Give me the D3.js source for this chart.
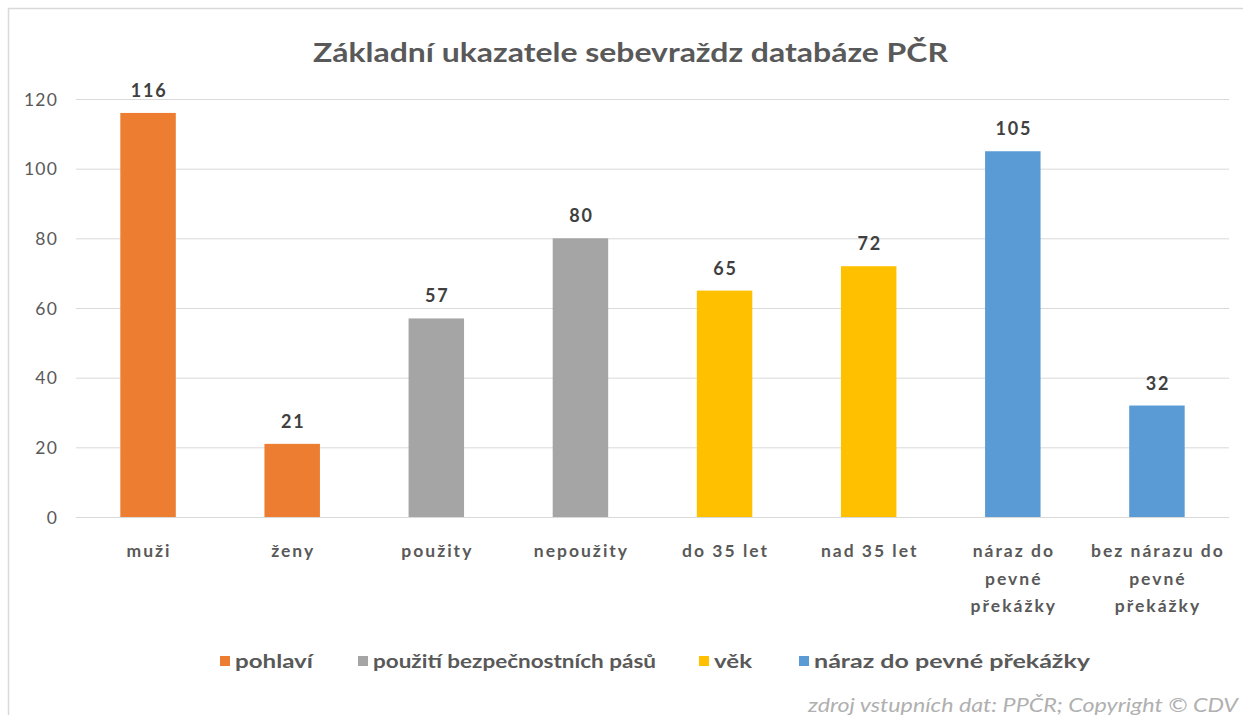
<!DOCTYPE html>
<html><head><meta charset="utf-8">
<script src="https://cdn.jsdelivr.net/npm/d3@7"></script>
<style>
html,body{margin:0;padding:0;background:#fff;overflow:hidden;}
svg{display:block;font-family:Lato,"Open Sans",sans-serif;}
</style></head>
<body>
<svg id="chart" width="1243" height="715"></svg>
<script>
const title = "Základní ukazatele sebevraždz databáze PČR";
const categories = ["muži","ženy","použity","nepoužity","do 35 let","nad 35 let","náraz do pevné překážky","bez nárazu do pevné překážky"];
const categoryLines = [["muži"],["ženy"],["použity"],["nepoužity"],["do 35 let"],["nad 35 let"],["náraz do","pevné","překážky"],["bez nárazu do","pevné","překážky"]];
const values = [116,21,57,80,65,72,105,32];
const groups = [0,0,1,1,2,2,3,3];
const groupNames = ["pohlaví","použití bezpečnostních pásů","věk","náraz do pevné překážky"];
const groupColors = ["#ED7D31","#A5A5A5","#FFC000","#5B9BD5"];
const yTicks = [0,20,40,60,80,100,120];
const source = "zdroj vstupních dat: PPČR; Copyright © CDV";

const svg = d3.select("#chart");
// frame
svg.append("rect").attr("x",8.5).attr("y",8.5).attr("width",1260).attr("height",720)
  .attr("fill","#fff").attr("stroke","#d9d9d9").attr("stroke-width",1.5);

const x = d3.scaleBand().domain(categories).range([76,1229]).paddingInner(0.615).paddingOuter(0.3075);
const y = d3.scaleLinear().domain([0,120]).range([517,99]);

// grid
svg.append("g").selectAll("line").data(yTicks).join("line")
  .attr("x1",76).attr("x2",1229).attr("y1",d=>y(d)+0.5).attr("y2",d=>y(d)+0.5)
  .attr("stroke","#d9d9d9").attr("stroke-width",1);

// y axis labels
const yAxis = d3.axisLeft(y).tickValues(yTicks).tickSize(0).tickPadding(0);
const gy = svg.append("g").attr("transform","translate(58,0)").call(yAxis);
gy.select(".domain").remove();
gy.selectAll("text").attr("fill","#595959").attr("dy","0.36em")
  .style("font-size","17.5px").style("letter-spacing","1.2px").style("font-family","Lato,sans-serif");

// bars
svg.append("g").selectAll("rect").data(values).join("rect")
  .attr("x",(d,i)=>x(categories[i])).attr("width",x.bandwidth())
  .attr("y",d=>y(d)).attr("height",d=>y(0)-y(d))
  .attr("fill",(d,i)=>groupColors[groups[i]]);

// value labels
svg.append("g").selectAll("text").data(values).join("text")
  .attr("x",(d,i)=>x(categories[i])+x.bandwidth()/2+1).attr("y",d=>y(d)-16)
  .attr("text-anchor","middle").attr("fill","#404040")
  .style("font-size","18px").style("letter-spacing","1.8px").style("font-weight","bold").text(d=>d);

// x labels
const xl = svg.append("g").selectAll("text").data(categories).join("text")
  .attr("x",d=>x(d)+x.bandwidth()/2).attr("y",557)
  .attr("text-anchor","middle").attr("fill","#595959")
  .style("font-size","17.5px").style("letter-spacing","2px").style("font-weight","bold");
xl.each(function(d,i){
  d3.select(this).selectAll("tspan").data(categoryLines[i]).join("tspan")
    .attr("x",x(d)+x.bandwidth()/2+1).attr("dy",(t,j)=>j===0?0:27.5).text(t=>t);
});

// title
svg.append("text").attr("x",313).attr("y",62).attr("textLength",635).attr("lengthAdjust","spacingAndGlyphs")
  .attr("fill","#595959").style("font-size","27px").style("font-weight","bold").text(title);

// legend
const legendX = [220,358,699,799];
const legendW = [78,283,38,276];
const lg = svg.append("g").selectAll("g").data(groupNames).join("g")
  .attr("transform",(d,i)=>`translate(${legendX[i]},661)`);
lg.append("rect").attr("x",0).attr("y",-5).attr("width",10).attr("height",10).attr("fill",(d,i)=>groupColors[i]);
lg.append("text").attr("x",15).attr("y",7).attr("fill","#595959")
  .attr("textLength",(d,i)=>legendW[i]).attr("lengthAdjust","spacingAndGlyphs")
  .style("font-size","19.5px").style("font-weight","bold").text(d=>d);

// source
svg.append("text").attr("x",808).attr("y",712).attr("textLength",430).attr("lengthAdjust","spacingAndGlyphs")
  .attr("fill","#b0b0b0").style("font-size","19px").style("font-style","italic").text(source);
</script>
</body></html>
